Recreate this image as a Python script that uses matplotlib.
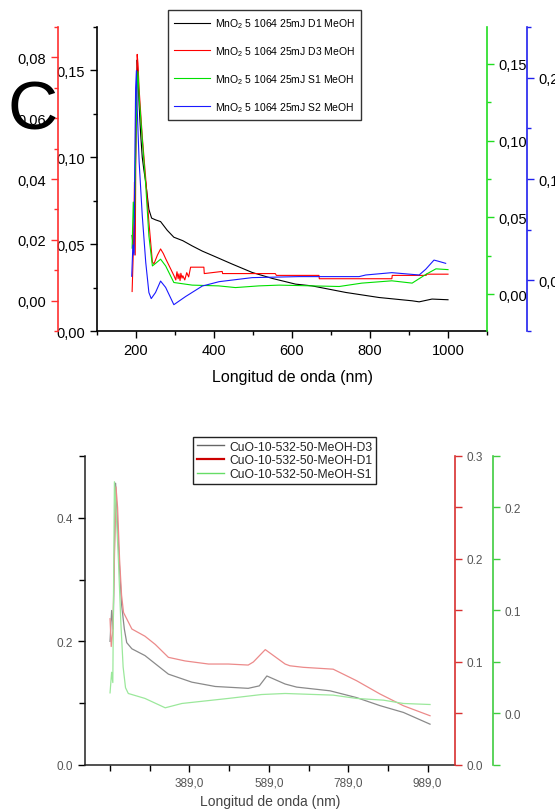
import matplotlib
matplotlib.use("Agg")
import matplotlib.pyplot as plt
from matplotlib.ticker import MultipleLocator, FixedLocator, FuncFormatter
from matplotlib.lines import Line2D

plt.rcParams['font.family'] = ['Liberation Sans', 'DejaVu Sans']
plt.rcParams['mathtext.fontset'] = 'custom'
plt.rcParams['mathtext.rm'] = 'Liberation Sans'

# ---- panel C : MnO2 5 1064 25mJ (wavelength nm / absorbance)
wl_d1 = [190, 194, 197, 200, 203, 205, 208, 212, 216, 220, 225, 233, 240, 250, 263, 280, 297,
         320, 344, 370, 398, 447, 498, 549, 609, 651, 738, 823, 908, 926, 959, 1000]
abs_d1 = [0.055, 0.045, 0.07, 0.12, 0.156, 0.148, 0.13, 0.113, 0.10, 0.093, 0.0855, 0.07, 0.065,
          0.064, 0.063, 0.058, 0.054, 0.052, 0.049, 0.046, 0.0433, 0.0385, 0.0337, 0.0303, 0.027,
          0.026, 0.0222, 0.0193, 0.0174, 0.0168, 0.0184, 0.018]

wl_d3 = [190, 194, 196, 198, 200, 203, 205, 208, 216, 225, 233, 242, 246, 255, 263, 270, 276,
         297, 302, 305, 308, 310, 313, 315, 318, 320, 325, 330, 335, 340, 374, 375, 421, 422,
         557, 560, 669, 670, 856, 857, 944, 945, 1000]
abs_d3 = [0.003, 0.02, 0.039, 0.015, 0.06, 0.081, 0.078, 0.0695, 0.054, 0.04, 0.0259, 0.0127,
          0.0121, 0.015, 0.017, 0.0155, 0.0138, 0.0083, 0.0068, 0.0095, 0.0072, 0.0088, 0.0066,
          0.009, 0.0074, 0.0082, 0.0068, 0.0092, 0.0078, 0.011, 0.011, 0.0089, 0.0096, 0.0089,
          0.0089, 0.0083, 0.0083, 0.0072, 0.0072, 0.0083, 0.0083, 0.0087, 0.0087]

wl_s1 = [190, 193, 196, 199, 202, 205, 208, 216, 225, 233, 242, 250, 263, 276, 297, 344, 412,
         455, 515, 567, 721, 779, 856, 908, 944, 969, 1000]
abs_s1 = [0.03, 0.06, 0.045, 0.09, 0.13, 0.145, 0.129, 0.101, 0.0706, 0.038, 0.0184, 0.02, 0.0228,
          0.0184, 0.0076, 0.0059, 0.0054, 0.0043, 0.0054, 0.0059, 0.005, 0.0072, 0.0087, 0.0072,
          0.013, 0.0165, 0.016]

wl_s2 = [189, 192, 195, 197, 199, 201, 203, 208, 216, 225, 233, 239, 250, 263, 276, 297, 327,
         370, 413, 498, 618, 772, 789, 856, 926, 943, 964, 974, 994]
abs_s2 = [0.004, 0.035, 0.025, 0.12, 0.19, 0.207, 0.17, 0.117, 0.064, 0.0175, -0.012, -0.018,
          -0.012, -0.0007, -0.007, -0.024, -0.016, -0.0056, -0.0013, 0.0027, 0.0037, 0.0037,
          0.0053, 0.0076, 0.0053, 0.011, 0.020, 0.019, 0.0168]

labels_top = ['MnO$_2$ 5 1064 25mJ D1 MeOH', 'MnO$_2$ 5 1064 25mJ D3 MeOH',
              'MnO$_2$ 5 1064 25mJ S1 MeOH', 'MnO$_2$ 5 1064 25mJ S2 MeOH']

# ---- lower panel : CuO-10-532-50
wl_cu_d3 = [189, 193, 197, 200, 203, 207, 212, 218, 225, 231, 244, 277, 336, 395, 454, 537, 565,
            584, 630, 659, 743, 810, 869, 928, 995]
abs_cu_d3 = [0.20, 0.25, 0.22, 0.35, 0.456, 0.40, 0.33, 0.26, 0.22, 0.198, 0.188, 0.177, 0.147,
             0.134, 0.127, 0.124, 0.128, 0.144, 0.131, 0.126, 0.120, 0.109, 0.096, 0.085, 0.066]

wl_cu_d1 = [189, 192, 196, 200, 204, 208, 213, 218, 223, 244, 277, 303, 336, 378, 437, 487, 537,
            550, 580, 630, 642, 676, 751, 810, 869, 928, 995]
abs_cu_d1 = [0.142, 0.115, 0.13, 0.2, 0.27, 0.25, 0.2, 0.165, 0.148, 0.132, 0.125, 0.117, 0.1045,
             0.101, 0.098, 0.098, 0.097, 0.1, 0.112, 0.098, 0.0963, 0.0948, 0.093, 0.0818, 0.0689,
             0.0575, 0.0478]

wl_cu_s1 = [189, 193, 196, 200, 204, 210, 216, 222, 228, 235, 277, 328, 370, 487, 571, 630, 751,
            810, 878, 928, 995]
abs_cu_s1 = [0.02, 0.04, 0.03, 0.225, 0.2, 0.15, 0.09, 0.045, 0.025, 0.0194, 0.0146, 0.0055,
             0.0097, 0.0146, 0.0184, 0.0194, 0.0178, 0.0146, 0.0129, 0.0097, 0.0087]

labels_bot = ['CuO-10-532-50-MeOH-D3', 'CuO-10-532-50-MeOH-D1', 'CuO-10-532-50-MeOH-S1']
xticks_bot = [389, 589, 789, 989]
xminor_bot = [189, 289, 489, 689, 889]


def comma(dec):
    return FuncFormatter(lambda v, p: f"{v:.{dec}f}".replace('.', ','))


def dot(dec):
    return FuncFormatter(lambda v, p: f"{v:.{dec}f}")


def only_spine(a, side, color, pos=None):
    for s in a.spines.values():
        s.set_visible(False)
    a.spines[side].set_visible(True)
    a.spines[side].set_color(color)
    a.spines[side].set_linewidth(1.2)
    if pos is not None:
        a.spines[side].set_position(('axes', pos))
    a.yaxis.set_ticks_position(side)
    a.tick_params(axis='y', which='both', colors=color, direction='out')


fig = plt.figure(figsize=(5.55, 8.12), dpi=100)

# ================= top =================
ax = fig.add_axes([0.1748, 0.5911, 0.7027, 0.3744])
l1, = ax.plot(wl_d1, abs_d1, color='black', lw=0.8)
ax.set_xlim(100, 1100)
ax.set_ylim(0, 0.175)
ax.spines['top'].set_visible(False)
ax.spines['right'].set_visible(False)
for s in ['left', 'bottom']:
    ax.spines[s].set_linewidth(1.2)
ax.xaxis.set_major_locator(MultipleLocator(200))
ax.xaxis.set_minor_locator(MultipleLocator(100))
ax.yaxis.set_major_locator(MultipleLocator(0.05))
ax.yaxis.set_minor_locator(MultipleLocator(0.025))
ax.yaxis.set_major_formatter(comma(2))
ax.tick_params(which='both', direction='out', labelsize=10.5, width=1)
ax.tick_params(which='major', length=5)
ax.tick_params(which='minor', length=3)
ax.set_xlabel('Longitud de onda (nm)', fontsize=11.5, labelpad=9)

ax_r = ax.twinx()
l2, = ax_r.plot(wl_d3, abs_d3, color='#ff0000', lw=0.8)
ax_r.set_ylim(-0.01, 0.09)
only_spine(ax_r, 'left', '#ff3030', pos=-0.1)
ax_r.yaxis.set_label_position('left')
ax_r.yaxis.set_major_locator(MultipleLocator(0.02))
ax_r.yaxis.set_minor_locator(MultipleLocator(0.01))
ax_r.yaxis.set_major_formatter(comma(2))
ax_r.tick_params(axis='y', labelcolor='black', labelsize=10.5)
ax_r.tick_params(which='major', length=5, width=1)
ax_r.tick_params(which='minor', length=3, width=1)

ax_g = ax.twinx()
l3, = ax_g.plot(wl_s1, abs_s1, color='#00e000', lw=0.8)
ax_g.set_ylim(-0.024, 0.174)
only_spine(ax_g, 'right', '#20dd20')
ax_g.yaxis.set_major_locator(MultipleLocator(0.05))
ax_g.yaxis.set_minor_locator(MultipleLocator(0.025))
ax_g.yaxis.set_major_formatter(comma(2))
ax_g.tick_params(axis='y', labelcolor='black', labelsize=10.5)
ax_g.tick_params(which='major', length=5, width=1)
ax_g.tick_params(which='minor', length=3, width=1)

ax_b = ax.twinx()
l4, = ax_b.plot(wl_s2, abs_s2, color='#1a1aff', lw=0.8)
ax_b.set_ylim(-0.05, 0.25)
only_spine(ax_b, 'right', '#2020ee', pos=1.1026)
ax_b.yaxis.set_major_locator(MultipleLocator(0.1))
ax_b.yaxis.set_minor_locator(MultipleLocator(0.05))
ax_b.yaxis.set_major_formatter(comma(1))
ax_b.tick_params(axis='y', labelcolor='black', labelsize=10.5)
ax_b.tick_params(which='major', length=5, width=1)
ax_b.tick_params(which='minor', length=3, width=1)

fig.legend([l1, l2, l3, l4], labels_top, loc='upper left', bbox_to_anchor=(168 / 555, 1 - 11 / 812),
           fontsize=7.5, frameon=True, fancybox=False, edgecolor='#333333', framealpha=1,
           handlelength=3.4, labelspacing=1.35, borderpad=0.6, handletextpad=0.5,
           borderaxespad=0)

fig.text(33 / 555, 1 - 111 / 812, 'C', fontsize=50, ha='center', va='center', zorder=10)

# ================= bottom =================
gray_axis = '#555555'
ax2 = fig.add_axes([0.1532, 0.0567, 0.6667, 0.3805])
m1, = ax2.plot(wl_cu_d3, abs_cu_d3, color='#8a8a8a', lw=0.9)
ax2.set_xlim(126, 1058)
ax2.set_ylim(0, 0.5)
ax2.spines['top'].set_visible(False)
ax2.spines['right'].set_visible(False)
for s in ['left', 'bottom']:
    ax2.spines[s].set_color('#222222')
    ax2.spines[s].set_linewidth(1.1)
ax2.xaxis.set_major_locator(FixedLocator(xticks_bot))
ax2.xaxis.set_minor_locator(FixedLocator(xminor_bot))
ax2.xaxis.set_major_formatter(comma(1))
ax2.yaxis.set_major_locator(MultipleLocator(0.2))
ax2.yaxis.set_minor_locator(MultipleLocator(0.1))
ax2.yaxis.set_major_formatter(dot(1))
ax2.tick_params(which='both', direction='out', labelsize=8.5, labelcolor=gray_axis, width=1)
ax2.tick_params(which='major', length=5)
ax2.tick_params(which='minor', length=4)
ax2.set_xlabel('Longitud de onda (nm)', fontsize=10, color='#444444', labelpad=4)

ax2_r = ax2.twinx()
m2, = ax2_r.plot(wl_cu_d1, abs_cu_d1, color='#ec8a8a', lw=0.9)
ax2_r.set_ylim(0, 0.3)
only_spine(ax2_r, 'right', '#d83030')
ax2_r.yaxis.set_major_locator(MultipleLocator(0.1))
ax2_r.yaxis.set_minor_locator(MultipleLocator(0.05))
ax2_r.yaxis.set_major_formatter(dot(1))
ax2_r.tick_params(axis='y', labelcolor=gray_axis, labelsize=8.5)
ax2_r.tick_params(which='both', length=5, width=1)

ax2_g = ax2.twinx()
m3, = ax2_g.plot(wl_cu_s1, abs_cu_s1, color='#9be89b', lw=0.9)
ax2_g.set_ylim(-0.05, 0.25)
only_spine(ax2_g, 'right', '#40cc40', pos=1.1027)
ax2_g.yaxis.set_major_locator(MultipleLocator(0.1))
ax2_g.yaxis.set_minor_locator(MultipleLocator(0.05))
ax2_g.yaxis.set_major_formatter(dot(1))
ax2_g.tick_params(axis='y', labelcolor=gray_axis, labelsize=8.5)
ax2_g.tick_params(which='both', length=5, width=1)

leg_handles = [Line2D([], [], color='#666666', lw=1.0),
               Line2D([], [], color='#cc0000', lw=1.6),
               Line2D([], [], color='#66dd66', lw=1.0)]
fig.legend(leg_handles, labels_bot, loc='upper left', bbox_to_anchor=(193 / 555, 1 - 438 / 812),
           fontsize=8.7, frameon=True, fancybox=False, edgecolor='#222222', framealpha=1,
           handlelength=2.3, labelspacing=0.15, borderpad=0.3, handletextpad=0.4,
           borderaxespad=0, labelcolor='#222222')

fig.savefig('out.png', dpi=100)
